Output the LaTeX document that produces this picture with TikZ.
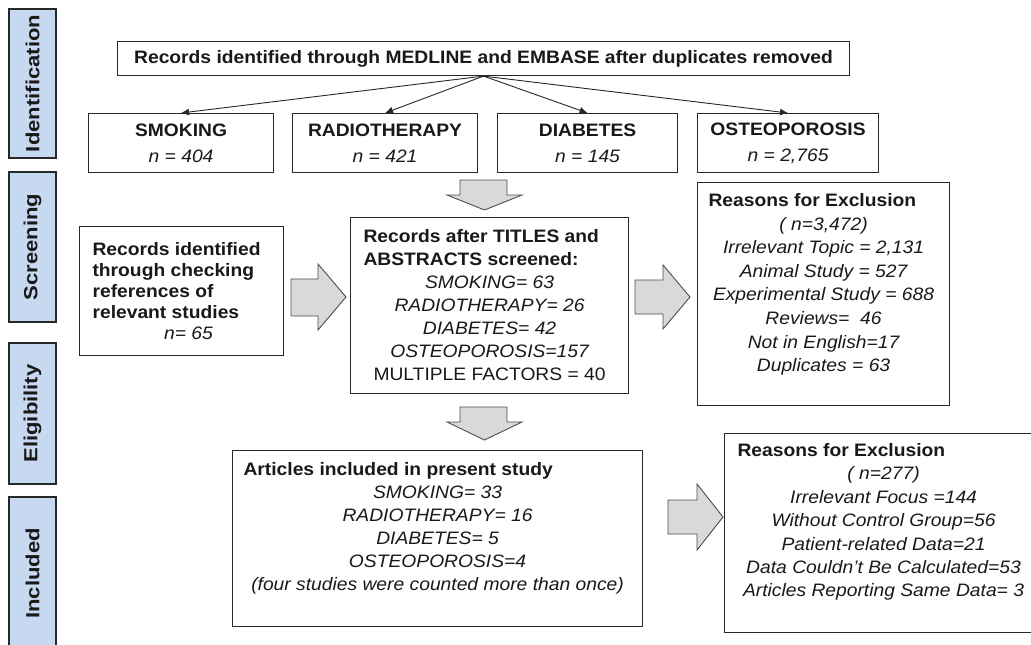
\documentclass[tikz,border=0pt]{standalone}
\usepackage{fontspec}
\setmainfont{Liberation Sans}[FakeStretch=1.07]
\usetikzlibrary{arrows.meta}

\definecolor{phaseblue}{RGB}{198,217,241}
\definecolor{boxline}{RGB}{40,40,40}
\definecolor{arrowfill}{RGB}{217,217,217}

\begin{document}
\begin{tikzpicture}[
				x=1pt, y=-1pt,
				every node/.style={font=\fontsize{18}{23}\selectfont, text=black!90},
				phase/.style={draw=boxline, fill=phaseblue, line width=1.2pt, rotate=90, minimum height=47pt, inner sep=0pt, font=\fontsize{19}{23}\selectfont\bfseries\addfontfeature{FakeStretch=1.16}},
				block/.style={draw=boxline, line width=1.1pt, fill=white, inner sep=0pt, anchor=north west},
				link/.style={draw=boxline, line width=0.9pt, -{Latex[length=8pt,width=7pt]}},
				bigarrow/.style={draw=black!70, fill=arrowfill, line width=0.9pt, line join=miter}
			]
				\useasboundingbox (0,0) rectangle (1031,645);

				% phases
				\node[phase, minimum width=149pt] (ident) at (32.5,83.5) {Identification};
				\node[phase, minimum width=150pt] (screen) at (32.5,247) {Screening};
				\node[phase, minimum width=141pt] (elig) at (32.5,413.5) {Eligibility};
				\node[phase, minimum width=153pt] (incl) at (32.5,573.5) {Included};

				% identification
				\node[block] (records) at (117,41) {\parbox[c][34pt][c]{732pt}{\centering\bfseries Records identified through MEDLINE and EMBASE after duplicates removed}};
				\node[block] (smoking) at (88,113) {\parbox[c][59pt][c]{185pt}{\centering\bfseries SMOKING\\[3pt] \mdseries\itshape n = 404}};
				\node[block] (radio) at (292,113) {\parbox[c][59pt][c]{185pt}{\centering\bfseries RADIOTHERAPY\\[3pt] \mdseries\itshape n = 421}};
				\node[block] (diab) at (497,113) {\parbox[c][59pt][c]{180pt}{\centering\bfseries DIABETES\\[3pt] \mdseries\itshape n = 145}};
				\node[block] (osteo) at (697,113) {\parbox[c][59pt][c]{181pt}{\centering\bfseries OSTEOPOROSIS\\[3pt] \mdseries\itshape n = 2,765}};

				\draw[link] (records.south) -- (smoking.north);
				\draw[link] (records.south) -- (radio.north);
				\draw[link] (records.south) -- (diab.north);
				\draw[link] (records.south) -- (osteo.north);

				% screening
				\node[block] (refs) at (79,226) {\parbox[c][129pt][c]{204pt}{\fontsize{18}{21}\selectfont\centering
					\makebox[178pt][l]{\bfseries Records identified}\\
					\makebox[178pt][l]{\bfseries through checking}\\
					\makebox[178pt][l]{\bfseries references of}\\
					\makebox[178pt][l]{\bfseries relevant studies}\\
					\hspace*{14pt}\itshape n= 65\par}};
				\node[block] (screened) at (350,217) {\parbox[c][176pt][c]{278pt}{\centering
					\makebox[252pt][l]{\bfseries Records after TITLES and}\\
					\makebox[252pt][l]{\bfseries ABSTRACTS screened:}\\
					\itshape SMOKING= 63\\
					RADIOTHERAPY= 26\\
					DIABETES= 42\\
					OSTEOPOROSIS=157\\
					\upshape MULTIPLE FACTORS = 40\par}};
				\node[block] (excl1) at (697,182) {\parbox[c][223pt][t]{252pt}{\fontsize{18}{23.6}\selectfont\centering\vspace*{11pt}
					\makebox[230pt][l]{\bfseries Reasons for Exclusion}\\
					\itshape ( n=3,472)\\
					Irrelevant Topic = 2,131\\
					Animal Study = 527\\
					Experimental Study = 688\\
					Reviews=~ 46\\
					Not in English=17\\
					Duplicates = 63\par}};

				% included
				\node[block] (articles) at (232,450) {\parbox[c][176pt][t]{410pt}{\centering\vspace*{12pt}
					\makebox[388pt][l]{\bfseries Articles included in present study}\\
					\itshape SMOKING= 33\\
					RADIOTHERAPY= 16\\
					DIABETES= 5\\
					OSTEOPOROSIS=4\\
					(four studies were counted more than once)\par}};
				\node[block] (excl2) at (724,433) {\parbox[c][199pt][t]{318pt}{\fontsize{18}{23.4}\selectfont\centering\vspace*{10pt}
					\makebox[292pt][l]{\bfseries Reasons for Exclusion}\\
					\itshape ( n=277)\\
					Irrelevant Focus =144\\
					Without Control Group=56\\
					Patient-related Data=21\\
					Data Couldn’t Be Calculated=53\\
					Articles Reporting Same Data= 3\par}};

				% block arrows
				\draw[bigarrow] (460,180) -- (507,180) -- (507,195) -- (522,195) -- (484.5,210) -- (447,195) -- (460,195) -- cycle;
				\draw[bigarrow] (460,407) -- (507,407) -- (507,422) -- (522,422) -- (484.5,440) -- (447,422) -- (460,422) -- cycle;
				\draw[bigarrow] (291,279) -- (318,279) -- (318,264) -- (346,297) -- (318,330) -- (318,316) -- (291,316) -- cycle;
				\draw[bigarrow] (635,280) -- (663,280) -- (663,265) -- (690,297) -- (663,329) -- (663,314) -- (635,314) -- cycle;
				\draw[bigarrow] (668,500) -- (697,500) -- (697,484) -- (723,517) -- (697,550) -- (697,534) -- (668,534) -- cycle;
			\end{tikzpicture}
\end{document}
